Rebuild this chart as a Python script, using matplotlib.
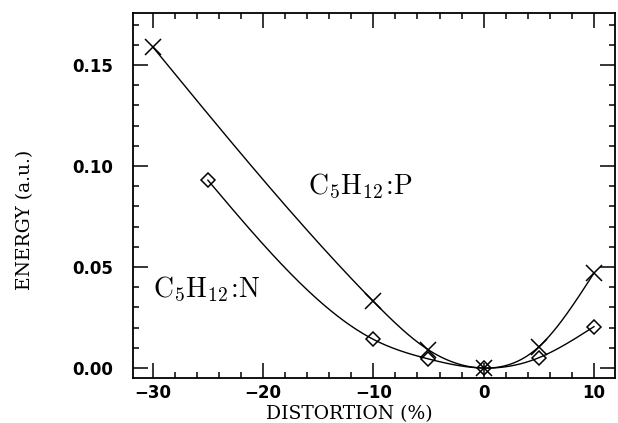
import numpy as np
import matplotlib.pyplot as plt
from matplotlib.ticker import MultipleLocator

# Dados
dist_p = [-30, -10, -5, 0, 5, 10]
energy_p = [0.159, 0.033, 0.009, 0.0, 0.0105, 0.047]
dist_n = [-25, -10, -5, 0, 5, 10]
energy_n = [0.093, 0.0142, 0.0045, 0.0, 0.0051, 0.0205]


def natural_spline(x, y, n=300):
    # spline cúbica natural só para desenhar a curva suave entre os pontos
    x = np.asarray(x, float); y = np.asarray(y, float)
    h = np.diff(x)
    m = len(x)
    A = np.zeros((m, m)); b = np.zeros(m)
    A[0, 0] = A[-1, -1] = 1
    for i in range(1, m - 1):
        A[i, i - 1] = h[i - 1]
        A[i, i] = 2 * (h[i - 1] + h[i])
        A[i, i + 1] = h[i]
        b[i] = 6 * ((y[i + 1] - y[i]) / h[i] - (y[i] - y[i - 1]) / h[i - 1])
    M = np.linalg.solve(A, b)
    xs = np.linspace(x[0], x[-1], n)
    k = np.clip(np.searchsorted(x, xs) - 1, 0, m - 2)
    t = xs - x[k]; hk = h[k]
    ys = (M[k] * (x[k + 1] - xs) ** 3 / (6 * hk) + M[k + 1] * t ** 3 / (6 * hk)
          + (y[k] / hk - M[k] * hk / 6) * (x[k + 1] - xs)
          + (y[k + 1] / hk - M[k + 1] * hk / 6) * t)
    return xs, ys


plt.rcParams['mathtext.fontset'] = 'cm'
fig = plt.figure(figsize=(6.18, 4.23), dpi=100)
ax = fig.add_axes([0.215, 0.106, 0.78, 0.863])

for xd, yd, mk, ms in [(dist_p, energy_p, 'x', 11), (dist_n, energy_n, 'D', 7.3)]:
    xs, ys = natural_spline(xd, yd)
    ax.plot(xs, ys, color='black', lw=1.0)
    ax.plot(xd, yd, ls='none', marker=mk, ms=ms, mfc='none', mec='black', mew=1.1)

ax.set_xlim(-31.8, 11.9)
ax.set_ylim(-0.005, 0.1757)
ax.xaxis.set_major_locator(MultipleLocator(10))
ax.xaxis.set_minor_locator(MultipleLocator(2))
ax.yaxis.set_major_locator(MultipleLocator(0.05))
ax.yaxis.set_minor_locator(MultipleLocator(0.01))
ax.yaxis.set_major_formatter(plt.FormatStrFormatter('%.2f'))
ax.tick_params(which='both', direction='in', top=True, right=True, width=1.1)
ax.tick_params(which='major', length=11, labelsize=12)
ax.tick_params(which='minor', length=4.5)
ax.tick_params(axis='x', which='major', pad=4)
ax.tick_params(axis='y', which='major', pad=14)
for lab in ax.get_xticklabels() + ax.get_yticklabels():
    lab.set_fontweight('bold')
for s in ax.spines.values():
    s.set_linewidth(1.3)

ax.set_xlabel('DISTORTION (%)', family='DejaVu Serif', fontsize=13.5)
ax.xaxis.set_label_coords(0.45, -0.075)
ax.set_ylabel('ENERGY (a.u.)', family='DejaVu Serif', fontsize=13.5)
ax.yaxis.set_label_coords(-0.205, 0.433)

ax.text(-15.9, 0.086, r'$\mathrm{C_5H_{12}\!:\!P}$', fontsize=20)
ax.text(-30.0, 0.035, r'$\mathrm{C_5H_{12}\!:\!N}$', fontsize=20)

fig.savefig('out.png', dpi=100)
